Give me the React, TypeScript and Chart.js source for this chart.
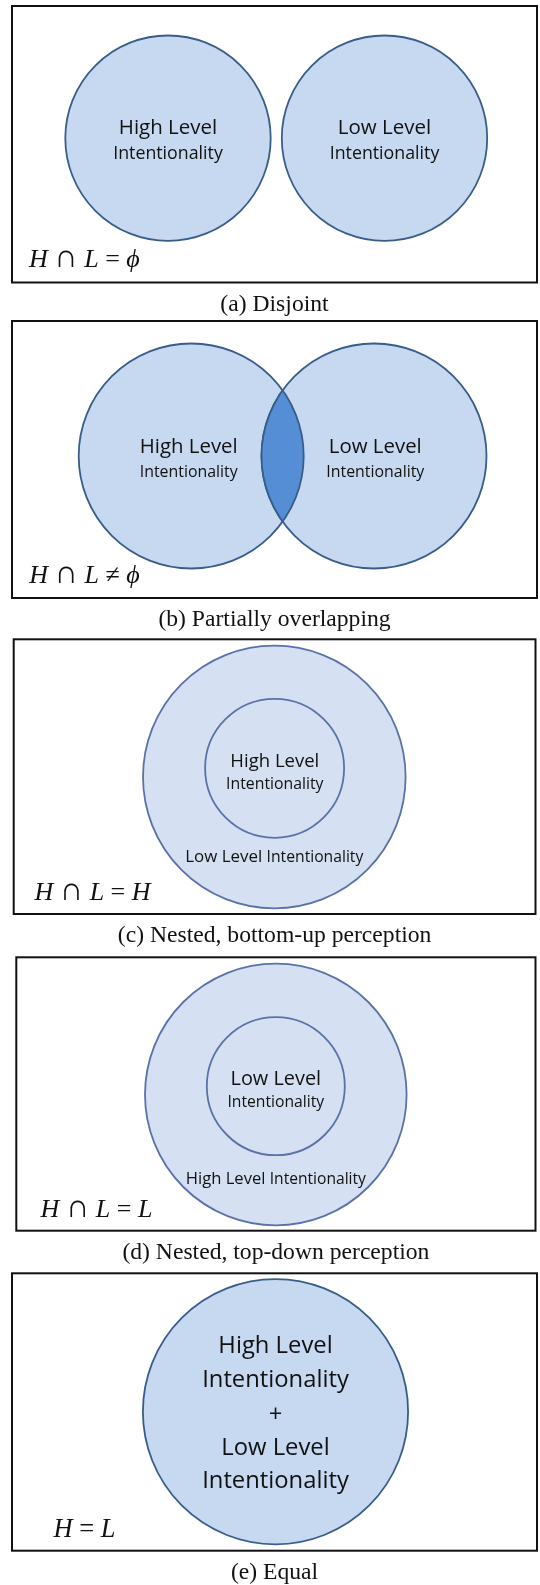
import React, { useEffect, useRef } from "react";
import { Chart, registerables } from "chart.js";

Chart.register(...registerables);

// ---------------- data ----------------
const captions = [
  "(a) Disjoint",
  "(b) Partially overlapping",
  "(c) Nested, bottom-up perception",
  "(d) Nested, top-down perception",
  "(e) Equal",
];
const formulas = ["H ∩ L = ϕ", "H ∩ L ≠ ϕ", "H ∩ L = H", "H ∩ L = L", "H = L"];
// circle of every set, in figure units of the panel frame
const circleNames = [
  ["High Level Intentionality", "Low Level Intentionality"],
  ["High Level Intentionality", "Low Level Intentionality"],
  ["Low Level Intentionality", "High Level Intentionality"],
  ["High Level Intentionality", "Low Level Intentionality"],
  ["High Level + Low Level Intentionality"],
];
const circleX = [[156, 372.5], [179.2, 362], [260.6, 260.9], [259.5, 259.5], [263.5]];
const circleY = [[132.2, 132.2], [135, 135], [137.7, 129], [137.2, 128.9], [138.4]];
const circleR = [[102.7, 102.7], [112.5, 112.5], [131.3, 69.5], [130.8, 69], [132.6]];

// ---------------- layout / style ----------------
const BOXES = [
  { l: 12, t: 6, r: 537, b: 282.5 },
  { l: 12, t: 321, r: 537, b: 598 },
  { l: 13.7, t: 639.3, r: 535.5, b: 914 },
  { l: 16.3, t: 957.3, r: 535.5, b: 1230.7 },
  { l: 12, t: 1273.3, r: 537, b: 1550.7 },
];

const FORMULA_POS = [
  { x: 17, b: 15.5, size: 26 },
  { x: 17.3, b: 15.3, size: 26 },
  { x: 20.7, b: 14.5, size: 26 },
  { x: 24.3, b: 13.5, size: 26 },
  { x: 41.4, b: 13.5, size: 26.5 },
];

const DARK = { fill: "#C6D9F1", stroke: "#385D8A", width: 1.8 };
const LIGHT = { fill: "#D5E0F2", stroke: "#5A72A8", width: 1.8 };
const STYLES = [
  { fills: [DARK.fill, DARK.fill], stroke: DARK.stroke, width: DARK.width },
  { fills: [DARK.fill, DARK.fill], stroke: DARK.stroke, width: DARK.width },
  { fills: [LIGHT.fill, "rgba(0,0,0,0)"], stroke: LIGHT.stroke, width: LIGHT.width },
  { fills: [LIGHT.fill, "rgba(0,0,0,0)"], stroke: LIGHT.stroke, width: LIGHT.width },
  { fills: [DARK.fill], stroke: DARK.stroke, width: DARK.width },
];
const LENS_FILL = "#558ED5";

const SANS = '"Open Sans", "Noto Sans", sans-serif';
const SERIF = '"Liberation Serif", "DejaVu Serif", serif';
const TEXT = "#111";

type Part = [string, number];
type Line = { c: number; dx: number; dy: number; parts: Part[] };
const LABELS: Line[][] = [
  [
    { c: 0, dx: 0, dy: -3.9, parts: [["High Level", 20.5]] },
    { c: 0, dx: 0, dy: 21.1, parts: [["Intentionality", 17.8]] },
    { c: 1, dx: 0, dy: -3.9, parts: [["Low Level", 20.5]] },
    { c: 1, dx: 0, dy: 21.1, parts: [["Intentionality", 17.8]] },
  ],
  [
    { c: 0, dx: -2.5, dy: -3.3, parts: [["High Level", 20.4]] },
    { c: 0, dx: -2.5, dy: 20.7, parts: [["Intentionality", 15.9]] },
    { c: 1, dx: 1.3, dy: -3.3, parts: [["Low Level", 20.4]] },
    { c: 1, dx: 1.3, dy: 20.7, parts: [["Intentionality", 15.9]] },
  ],
  [
    { c: 1, dx: 0.2, dy: -1, parts: [["High Level", 18.5]] },
    { c: 1, dx: 0.2, dy: 20.7, parts: [["Intentionality", 15.8]] },
    { c: 0, dx: 0, dy: 85.3, parts: [["Low Level ", 16.9], ["Intentionality", 15.7]] },
  ],
  [
    { c: 1, dx: 0, dy: -1.2, parts: [["Low Level", 19.9]] },
    { c: 1, dx: 0, dy: 21, parts: [["Intentionality", 15.7]] },
    { c: 0, dx: 0, dy: 89.8, parts: [["High Level ", 16.6], ["Intentionality", 15.6]] },
  ],
  [
    { c: 0, dx: 0, dy: -58.4, parts: [["High Level", 23.8]] },
    { c: 0, dx: 0, dy: -24.4, parts: [["Intentionality", 23.8]] },
    { c: 0, dx: 0, dy: 10.5, parts: [["+", 23.8]] },
    { c: 0, dx: 0, dy: 43.3, parts: [["Low Level", 23.8]] },
    { c: 0, dx: 0, dy: 76.6, parts: [["Intentionality", 23.8]] },
  ],
];

const CAPTION_SIZE = 22.5;
const CAPTION_SX = 1.05;
const CAPTION_GAP = 28;

function radiusPx(ctx: any): number {
  const raw = ctx.raw;
  if (!raw) return 0;
  const s = ctx.chart.scales.x;
  return Math.abs(s.getPixelForValue(raw.x + raw.size) - s.getPixelForValue(raw.x));
}

function drawFormula(ctx: CanvasRenderingContext2D, text: string, x: number, y: number, size: number) {
  let cx = x;
  ctx.textAlign = "left";
  ctx.textBaseline = "alphabetic";
  ctx.fillStyle = TEXT;
  for (const ch of Array.from(text)) {
    const italic = /[A-Za-z\u0370-\u03FF]/.test(ch);
    const big = ch === "∩";
    ctx.font = `${italic ? "italic " : ""}${big ? size * 1.25 : size}px ${SERIF}`;
    ctx.fillText(ch, cx, y);
    cx += ctx.measureText(ch).width;
  }
}

function circlePath(ctx: CanvasRenderingContext2D, el: any) {
  ctx.beginPath();
  ctx.arc(el.x, el.y, el.options.radius, 0, Math.PI * 2);
  ctx.closePath();
}

function panelPlugin(idx: number) {
  return {
    id: "panelDecor" + idx,
    afterDatasetsDraw(chart: any) {
      const ctx: CanvasRenderingContext2D = chart.ctx;
      const area = chart.chartArea;
      const st = STYLES[idx];

      // intersection lens (panel b)
      if (idx === 1) {
        const a = chart.getDatasetMeta(0).data[0];
        const b = chart.getDatasetMeta(1).data[0];
        ctx.save();
        circlePath(ctx, a);
        ctx.clip();
        circlePath(ctx, b);
        ctx.fillStyle = LENS_FILL;
        ctx.fill();
        ctx.lineWidth = st.width;
        ctx.strokeStyle = st.stroke;
        ctx.stroke();
        ctx.restore();
        ctx.save();
        circlePath(ctx, b);
        ctx.clip();
        circlePath(ctx, a);
        ctx.lineWidth = st.width;
        ctx.strokeStyle = st.stroke;
        ctx.stroke();
        ctx.restore();
      }

      // labels inside the circles
      ctx.save();
      ctx.fillStyle = TEXT;
      ctx.textBaseline = "alphabetic";
      ctx.textAlign = "left";
      for (const line of LABELS[idx]) {
        const el = chart.getDatasetMeta(line.c).data[0];
        let total = 0;
        const widths: number[] = [];
        for (const [t, s] of line.parts) {
          ctx.font = `${s}px ${SANS}`;
          const w = ctx.measureText(t).width;
          widths.push(w);
          total += w;
        }
        let x = el.x + line.dx - total / 2;
        const y = el.y + line.dy;
        line.parts.forEach(([t, s], k) => {
          ctx.font = `${s}px ${SANS}`;
          ctx.fillText(t, x, y);
          x += widths[k];
        });
      }
      ctx.restore();

      // formula
      ctx.save();
      const fp = FORMULA_POS[idx];
      drawFormula(ctx, formulas[idx], area.left + fp.x, area.bottom - fp.b, fp.size);
      ctx.restore();

      // caption
      ctx.save();
      ctx.fillStyle = TEXT;
      ctx.font = `${CAPTION_SIZE}px ${SERIF}`;
      ctx.textAlign = "center";
      ctx.textBaseline = "alphabetic";
      ctx.translate((area.left + area.right) / 2, area.bottom + CAPTION_GAP);
      ctx.scale(CAPTION_SX, 1);
      ctx.fillText(captions[idx], 0, 0);
      ctx.restore();

      // frame
      ctx.save();
      ctx.strokeStyle = "#111";
      ctx.lineWidth = 2;
      ctx.strokeRect(area.left, area.top, area.right - area.left, area.bottom - area.top);
      ctx.restore();
    },
  };
}

function Panel({ idx }: { idx: number }) {
  const ref = useRef<HTMLCanvasElement>(null);
  const box = BOXES[idx];
  const top = Math.floor(box.t) - 6;
  const height = Math.ceil(box.b) + 36 - top;

  useEffect(() => {
    const canvas = ref.current;
    if (!canvas) return;
    const n = circleX[idx].length;
    const st = STYLES[idx];
    const datasets: any[] = circleX[idx].map((x, j) => ({
      type: "scatter",
      label: circleNames[idx][j],
      data: [{ x, y: circleY[idx][j], size: circleR[idx][j] }],
      order: n - 1 - j,
      pointRadius: radiusPx,
      pointHoverRadius: radiusPx,
      pointBackgroundColor: st.fills[j],
      pointHoverBackgroundColor: st.fills[j],
      pointBorderColor: st.stroke,
      pointHoverBorderColor: st.stroke,
      pointBorderWidth: st.width,
      pointHoverBorderWidth: st.width,
      showLine: false,
      clip: false,
    }));
    const chart = new Chart(canvas, {
      type: "scatter",
      data: { datasets },
      options: {
        animation: false,
        responsive: false,
        maintainAspectRatio: false,
        devicePixelRatio: 1,
        events: [],
        layout: {
          padding: {
            left: box.l,
            right: 540 - box.r,
            top: box.t - top,
            bottom: top + height - box.b,
          },
        },
        scales: {
          x: { type: "linear", min: 0, max: box.r - box.l, display: false },
          y: { type: "linear", min: 0, max: box.b - box.t, reverse: true, display: false },
        },
        plugins: {
          legend: { display: false },
          tooltip: { enabled: false },
          title: { display: false },
        },
      } as any,
      plugins: [panelPlugin(idx)],
    } as any);
    return () => chart.destroy();
  }, [idx]);

  return (
    <canvas
      ref={ref}
      width={540}
      height={height}
      style={{ position: "absolute", left: 0, top, width: 540, height, display: "block" }}
    />
  );
}

export default function App() {
  return (
    <div style={{ position: "absolute", left: 0, top: 0, width: 540, height: 1585, background: "#fff" }}>
      {BOXES.map((_, i) => (
        <Panel key={i} idx={i} />
      ))}
    </div>
  );
}
